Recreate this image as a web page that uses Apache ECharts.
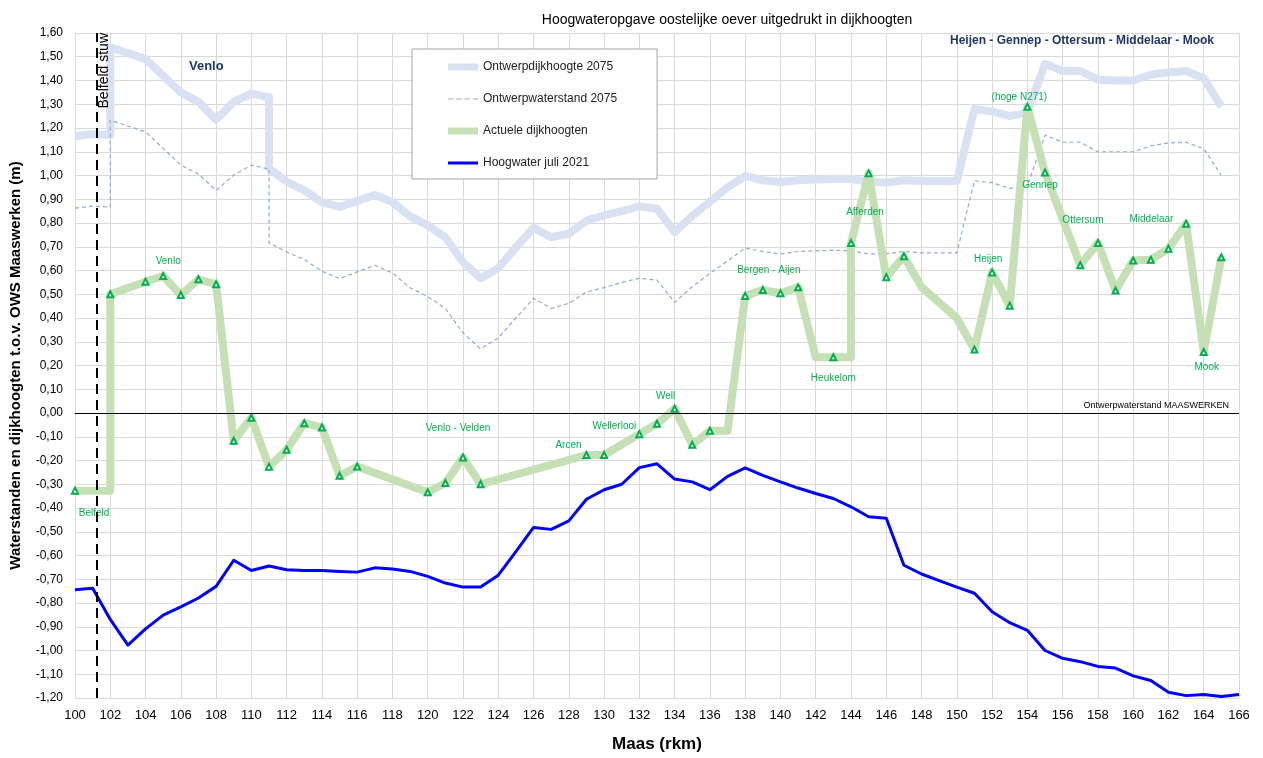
<!DOCTYPE html>
<html>
<head>
<meta charset="utf-8">
<script src="https://cdn.jsdelivr.net/npm/echarts@6/dist/echarts.min.js"></script>
<style>html,body{margin:0;padding:0;background:#fff;}#c{width:1263px;height:758px;}</style>
</head>
<body>
<div id="c"></div>
<script>
// ---- data ----
const kmDijk = [100,101,102,102,104,105,106,107,108,109,110,111,111,112,113,114,115,116,117,118,119,120,121,122,123,124,125,126,127,128,129,130,131,132,133,134,135,136,137,138,139,140,141,142,143,144,145,146,147,148,149,150,151,152,153,154,155,156,157,158,159,160,161,162,163,164,165];
const dijk2075 = [1.165,1.175,1.17,1.54,1.49,1.42,1.35,1.31,1.235,1.31,1.345,1.33,1.03,0.975,0.937,0.888,0.868,0.893,0.918,0.888,0.828,0.79,0.74,0.636,0.567,0.61,0.697,0.78,0.74,0.755,0.81,0.832,0.85,0.87,0.86,0.762,0.83,0.89,0.95,0.997,0.98,0.973,0.98,0.983,0.985,0.985,0.975,0.97,0.98,0.977,0.977,0.977,1.28,1.27,1.25,1.265,1.47,1.44,1.44,1.403,1.40,1.40,1.424,1.435,1.44,1.41,1.29];

const kmWater = kmDijk;
const water2075 = [0.863,0.871,0.867,1.233,1.184,1.114,1.044,1.006,0.937,1.002,1.044,1.027,0.716,0.678,0.646,0.597,0.566,0.594,0.622,0.59,0.527,0.49,0.44,0.337,0.27,0.316,0.40,0.483,0.44,0.462,0.51,0.528,0.55,0.567,0.56,0.466,0.532,0.588,0.64,0.695,0.68,0.67,0.68,0.683,0.685,0.683,0.67,0.67,0.68,0.674,0.674,0.674,0.978,0.97,0.946,0.957,1.17,1.14,1.14,1.10,1.10,1.10,1.125,1.137,1.14,1.113,1.00];

const kmActueel = [100,102,102,104,105,106,107,108,109,110,111,112,113,114,115,116,120,121,122,123,129,130,132,133,134,135,136,137,138,139,140,141,142,143,144,144,145,146,147,148,150,151,152,153,154,155,157,158,159,160,161,162,163,164,165];
const actueel = [-0.327,-0.327,0.50,0.553,0.577,0.497,0.563,0.542,-0.117,-0.02,-0.226,-0.155,-0.043,-0.061,-0.264,-0.225,-0.334,-0.295,-0.187,-0.30,-0.177,-0.177,-0.089,-0.045,0.018,-0.134,-0.075,-0.075,0.493,0.518,0.504,0.529,0.235,0.235,0.235,0.716,1.009,0.572,0.66,0.53,0.40,0.267,0.592,0.452,1.289,1.013,0.622,0.716,0.516,0.642,0.645,0.692,0.797,0.257,0.656];
const actueelMarker = [1,0,1,1,1,1,1,1,1,1,1,1,1,1,1,1,1,1,1,1,1,1,1,1,1,1,1,0,1,1,1,1,0,1,0,1,1,1,1,0,0,1,1,1,1,1,1,1,1,1,1,1,1,1,1];
const plaatsNamen = {
  '100|-0.327':'Belfeld', '105|0.577':'Venlo', '122|-0.187':'Venlo - Velden', '129|-0.177':'Arcen',
  '132|-0.089':'Wellerlooi', '134|0.018':'Well', '139|0.518':'Bergen - Aijen', '143|0.235':'Heukelom',
  '144|0.716':'Afferden', '152|0.592':'Heijen', '154|1.289':'(hoge N271)', '155|1.013':'Gennep',
  '158|0.716':'Ottersum', '162|0.692':'Middelaar', '164|0.257':'Mook'
};

const kmHoogwater = [100,101,102,103,104,105,106,107,108,109,110,111,112,113,114,115,116,117,118,119,120,121,122,123,124,125,126,127,128,129,130,131,132,133,134,135,136,137,138,139,140,141,142,143,144,145,146,147,148,149,150,151,152,153,154,155,156,157,158,159,160,161,162,163,164,165,166];
const hoogwater2021 = [-0.744,-0.738,-0.869,-0.977,-0.909,-0.851,-0.816,-0.779,-0.73,-0.62,-0.663,-0.644,-0.66,-0.663,-0.663,-0.667,-0.67,-0.652,-0.657,-0.667,-0.688,-0.716,-0.733,-0.733,-0.683,-0.584,-0.482,-0.49,-0.454,-0.363,-0.323,-0.30,-0.23,-0.214,-0.278,-0.29,-0.323,-0.267,-0.231,-0.263,-0.29,-0.316,-0.339,-0.36,-0.395,-0.437,-0.443,-0.641,-0.678,-0.706,-0.733,-0.759,-0.837,-0.883,-0.915,-1.00,-1.033,-1.047,-1.067,-1.074,-1.107,-1.126,-1.176,-1.19,-1.185,-1.194,-1.185];

const belfeldStuwKm = 101.23;

// ---- styling helpers (not data) ----
const labelOffsets = {
  'Belfeld':[19,23], 'Venlo':[5,-15], 'Venlo - Velden':[-5,-29], 'Arcen':[-18,-10], 'Wellerlooi':[-25,-8],
  'Well':[-9,-12], 'Bergen - Aijen':[6,-20], 'Heukelom':[0,21], 'Afferden':[14,-31], 'Heijen':[-4,-13],
  '(hoge N271)':[-8,-10], 'Gennep':[-5,13], 'Ottersum':[-15,-23], 'Middelaar':[-17,-29], 'Mook':[3,15]
};
const FONT = 'Liberation Sans';
const zip = (a,b) => a.map((x,i)=>[x,b[i]]);

const actueelData = kmActueel.map((k,i)=>{
  const v = actueel[i];
  const item = {value:[k,v]};
  if (!actueelMarker[i]) item.symbol = 'none';
  const name = plaatsNamen[k+'|'+v];
  if (name) {
    item.label = {show:true, formatter:name, position:'inside', offset:labelOffsets[name],
      color:'#00b050', fontSize:10, fontFamily:FONT};
  }
  return item;
});

const chart = echarts.init(document.getElementById('c'), null, {renderer:'canvas'});
chart.setOption({
  animation:false,
  backgroundColor:'#fff',
  textStyle:{fontFamily:FONT},
  title:{text:'Hoogwateropgave oostelijke oever uitgedrukt in dijkhoogten', left:722, top:8,
    textAlign:'center', textStyle:{fontSize:14, fontWeight:'normal', color:'#000', fontFamily:FONT}},
  graphic:[
    {type:'text', z:100, left:189, top:60, style:{text:'Venlo', font:'bold 13px "Liberation Sans"', fill:'#1f3864'}},
    {type:'text', z:100, right:49, top:35, style:{text:'Heijen - Gennep - Ottersum - Middelaar - Mook', font:'bold 12px "Liberation Sans"', fill:'#1f3864'}}
  ],
  legend:{
    orient:'vertical', left:412, top:49, itemWidth:30, itemHeight:14, itemGap:20,
    padding:[12,40,10,36], borderColor:'#a6a6a6', borderWidth:1, backgroundColor:'#fff',
    textStyle:{fontSize:12, color:'#222', fontFamily:FONT},
    data:[
      {name:'Ontwerpdijkhoogte 2075', icon:'path://M0,0H30V7H0Z', itemStyle:{color:'#d9e2f3', borderWidth:0}},
      {name:'Ontwerpwaterstand 2075', icon:'path://M0,0H5V1.2H0Z M8,0H13V1.2H8Z M16,0H21V1.2H16Z M24,0H29V1.2H24Z', itemStyle:{color:'#8eaadb', borderWidth:0}},
      {name:'Actuele dijkhoogten', icon:'path://M0,0H30V7H0Z', itemStyle:{color:'#c5e0b4', borderWidth:0}},
      {name:'Hoogwater juli 2021', icon:'path://M0,0H30V3H0Z', itemStyle:{color:'#0000ff', borderWidth:0}}
    ]
  },
  grid:{left:75, right:24, top:33, bottom:56},
  xAxis:{type:'value', min:100, max:166, interval:2,
    name:'Maas (rkm)', nameLocation:'middle', nameGap:38,
    nameTextStyle:{fontSize:17, fontWeight:'bold', color:'#000', fontFamily:FONT},
    axisLine:{show:true, lineStyle:{color:'#d9d9d9'}}, axisTick:{show:false},
    axisLabel:{fontSize:13, color:'#000', margin:11},
    splitLine:{show:true, lineStyle:{color:'#d9d9d9', width:1}}},
  yAxis:{type:'value', min:-1.2, max:1.6, interval:0.1,
    name:'Waterstanden en dijkhoogten t.o.v. OWS Maaswerken (m)', nameLocation:'middle', nameGap:52,
    nameTextStyle:{fontSize:15, fontWeight:'bold', color:'#000', fontFamily:FONT},
    axisLine:{show:true, lineStyle:{color:'#d9d9d9'}}, axisTick:{show:false},
    axisLabel:{fontSize:12, color:'#000', margin:12, formatter:v=>v.toFixed(2).replace('.',',')},
    splitLine:{show:true, lineStyle:{color:'#d9d9d9', width:1}}},
  series:[
    {name:'Ontwerpdijkhoogte 2075', type:'line', data:zip(kmDijk,dijk2075), symbol:'none', z:1,
      lineStyle:{color:'#d9e2f3', width:8, join:'round'}, itemStyle:{color:'#d9e2f3'}, emphasis:{disabled:true}},
    {name:'Ontwerpwaterstand 2075', type:'line', data:zip(kmWater,water2075), symbol:'none', z:2,
      lineStyle:{color:'#8eaadb', width:1.2, type:[4,3]}, itemStyle:{color:'#8eaadb'}, emphasis:{disabled:true},
      markLine:{silent:true, symbol:['none','none'], animation:false,
        data:[
          {yAxis:0, lineStyle:{color:'#000', width:1, type:'solid'},
            label:{show:true, formatter:'Ontwerpwaterstand MAASWERKEN', position:'insideEndTop', fontSize:9, color:'#000', distance:[10,3]}},
          {xAxis:belfeldStuwKm, lineStyle:{color:'#000', width:2, type:[10,6]},
            label:{show:true, formatter:'Belfeld stuw', position:'insideEndBottom', fontSize:14, color:'#000', distance:[0,0]}}
        ]}},
    {name:'Actuele dijkhoogten', type:'line', data:actueelData, z:3, clip:false,
      symbol:'emptyTriangle', symbolSize:6, showAllSymbol:true,
      lineStyle:{color:'#c5e0b4', width:8, join:'round'},
      itemStyle:{color:'#00b050', borderColor:'#00b050', borderWidth:1}, emphasis:{disabled:true}},
    {name:'Hoogwater juli 2021', type:'line', data:zip(kmHoogwater,hoogwater2021), symbol:'none', z:4,
      lineStyle:{color:'#0000ff', width:3, join:'round'}, itemStyle:{color:'#0000ff'}, emphasis:{disabled:true}}
  ]
});
</script>
</body>
</html>
